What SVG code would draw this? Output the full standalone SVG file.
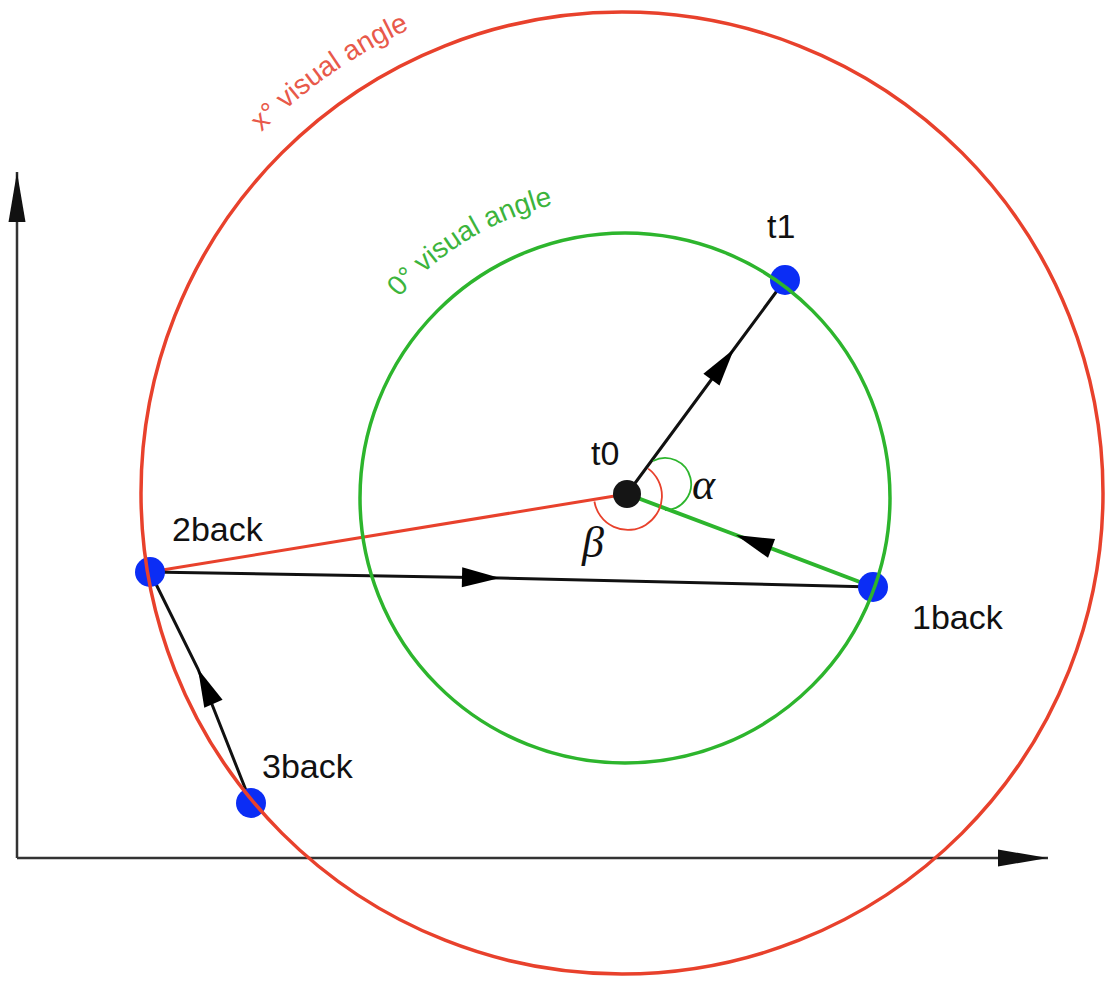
<svg xmlns="http://www.w3.org/2000/svg" width="1109" height="981" viewBox="0 0 1109 981">
<style>
.lbl{font-family:"Liberation Sans",Arial,sans-serif;font-size:34px;fill:#111}
.greek{font-family:"Liberation Serif","Times New Roman",serif;font-style:italic;fill:#111}
.ctxt{font-family:"Liberation Sans",Arial,sans-serif;font-size:28px}
.axis{stroke:#333;stroke-width:2.5;fill:none}
.blk{stroke:#111;stroke-width:3;fill:none}
.dot{fill:#0b2df5}
</style>
<defs>
<marker id="arr" markerUnits="userSpaceOnUse" viewBox="-40 -12 42 24" refX="0" refY="0" markerWidth="42" markerHeight="24" orient="auto" overflow="visible">
<path d="M0,0 L-38,-10 L-38,10 Z" fill="#000"/>
</marker>
<marker id="axarr" markerUnits="userSpaceOnUse" viewBox="-52 -10 54 20" refX="0" refY="0" markerWidth="54" markerHeight="20" orient="auto" overflow="visible">
<path d="M0,0 L-50,-8.5 L-50,8.5 Z" fill="#111"/>
</marker>
<path id="redTP" d="M231.3,165.2 A510,510 0 0 1 877,51.3"/>
<path id="greenTP" d="M363.5,347 A302,302 0 0 1 776,236.5"/>
</defs>
<g id="axes">
<path class="axis" d="M17,858 L17,172" marker-end="url(#axarr)"/>
<path class="axis" d="M17,858 L1048,858" marker-end="url(#axarr)"/>
</g>
<g id="connectors">
<path d="M150,572 L627,494" stroke="#e8412c" stroke-width="3" fill="none"/>
<path class="blk" d="M627,494 L734,349 L785,280" marker-mid="url(#arr)"/>
<path d="M873,587 L736,535 L627,494" stroke="#2db52d" stroke-width="4" fill="none" marker-mid="url(#arr)"/>
<path class="blk" d="M150,572 L500,578 L873,587" marker-mid="url(#arr)"/>
<path class="blk" d="M251,803 L198,669 L150,572" marker-mid="url(#arr)"/>
</g>
<g id="t0"><circle cx="627" cy="494" r="14" fill="#151515"/><text class="lbl" x="591" y="465">t0</text></g>
<g id="t1"><circle class="dot" cx="785" cy="280" r="15"/><text class="lbl" x="767" y="238">t1</text></g>
<g id="back1"><circle class="dot" cx="873" cy="587" r="15"/><text class="lbl" x="912" y="629">1back</text></g>
<g id="back2"><circle class="dot" cx="150" cy="572" r="15"/><text class="lbl" x="172" y="541">2back</text></g>
<g id="back3"><circle class="dot" cx="251" cy="803" r="15"/><text class="lbl" x="262" y="778">3back</text></g>
<g id="circleRed">
<circle cx="622" cy="493" r="481" fill="none" stroke="#e8412c" stroke-width="3.5"/>
<text class="ctxt" fill="#e8594a"><textPath href="#redTP" startOffset="45">x° visual angle</textPath></text>
</g>
<g id="circleGreen">
<circle cx="625" cy="498" r="265" fill="none" stroke="#2db52d" stroke-width="3.5"/>
<text class="ctxt" fill="#3cb43c"><textPath href="#greenTP" startOffset="61">0° visual angle</textPath></text>
</g>
<g id="angles">
<path d="M648.2,468.6 A34,34 0 1 1 594.4,501.5" fill="none" stroke="#e8412c" stroke-width="1.8"/>
<path d="M653,461 A26,26 0 1 1 665,510" fill="none" stroke="#2db52d" stroke-width="1.8"/>
<text class="greek" x="692" y="499" font-size="44">α</text>
<text class="greek" x="582" y="557" font-size="44">β</text>
</g>
</svg>
